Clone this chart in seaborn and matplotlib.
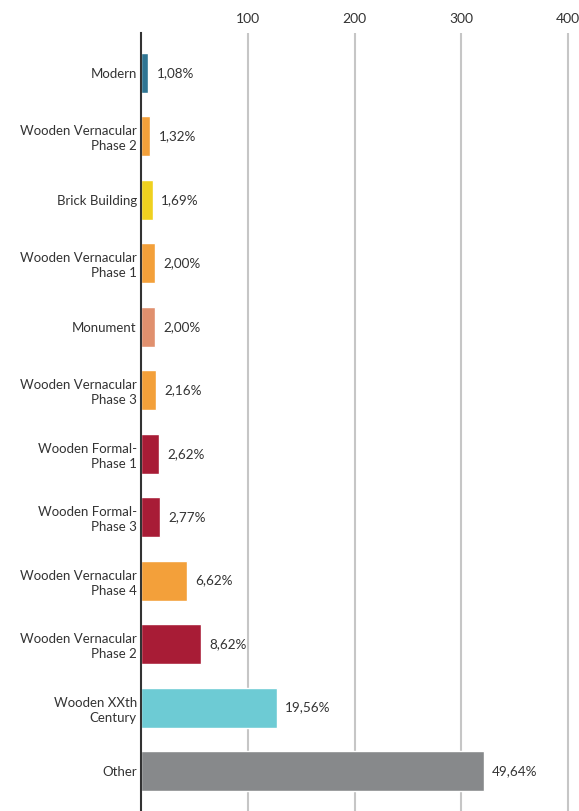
import pandas as pd
import seaborn as sns
import matplotlib.pyplot as plt

categories = ["Modern", "Wooden Vernacular\nPhase 2", "Brick Building",
              "Wooden Vernacular\nPhase 1", "Monument", "Wooden Vernacular\nPhase 3",
              "Wooden Formal-\nPhase 1", "Wooden Formal-\nPhase 3",
              "Wooden Vernacular\nPhase 4", "Wooden Vernacular\nPhase 2",
              "Wooden XXth\nCentury", "Other"]
counts = [7, 8.5, 11, 13, 13, 14, 17, 18, 43, 56, 127, 321]
pct_labels = ["1,08%", "1,32%", "1,69%", "2,00%", "2,00%", "2,16%",
              "2,62%", "2,77%", "6,62%", "8,62%", "19,56%", "49,64%"]
colors = ["#2f7593", "#f3a03a", "#efd11f", "#f3a03a", "#e0906e", "#f3a03a",
          "#a81c36", "#a81c36", "#f3a03a", "#a81c36", "#6dcbd4", "#87898b"]

sns.set_style("white")
plt.rcParams['font.family'] = ['Lato', 'DejaVu Sans']

df = pd.DataFrame({"key": [str(i) for i in range(len(categories))], "count": counts})

fig = plt.figure(figsize=(5.79, 8.11), dpi=100)
ax = fig.add_axes([141 / 579, 0, 1 - 141 / 579, 1 - 33 / 811])
sns.barplot(data=df, x="count", y="key", hue="key", palette=colors, legend=False,
            width=0.63, orient="h", ax=ax, saturation=1)

ax.set_xlim(0, 410)
ax.set_ylim(11.63, -0.63)
ax.set_xticks([100, 200, 300, 400])
ax.xaxis.tick_top()
ax.tick_params(axis="x", length=0, pad=6, labelsize=10, labelcolor="#333333")
ax.set_yticks(range(len(categories)))
ax.set_yticklabels(categories, fontsize=9.5, color="#333333", linespacing=1.3)
ax.tick_params(axis="y", length=0, pad=3)
ax.set_xlabel("")
ax.set_ylabel("")
ax.grid(axis="x", color="#c6c6c6", linewidth=1.5)
ax.set_axisbelow(True)
for side in ["top", "right", "bottom"]:
    ax.spines[side].set_visible(False)
ax.spines["left"].set_color("#333333")
ax.spines["left"].set_linewidth(1.5)

# one container per hue level, so one label each
for i, c in enumerate(ax.containers):
    ax.bar_label(c, labels=[pct_labels[i]], padding=6, fontsize=9.75, color="#333333")

for t in ax.get_yticklabels():
    t.set_multialignment("right")

fig.savefig("out.png", dpi=100)
